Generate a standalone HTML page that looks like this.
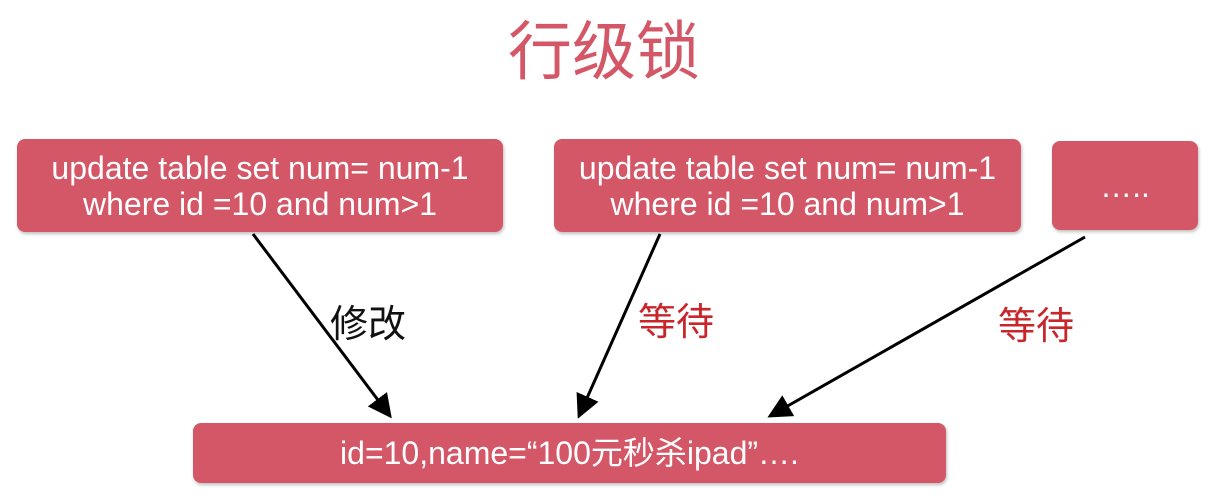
<!DOCTYPE html>
<html><head><meta charset="utf-8"><style>
body{margin:0;width:1208px;height:499px;background:#fff;position:relative;overflow:hidden;font-family:"Liberation Sans","Noto Sans CJK SC",sans-serif}
.b{position:absolute;background:#d35767;border-radius:8px;color:#fff;display:flex;align-items:center;justify-content:center;text-align:center;box-shadow:1px 2px 3px rgba(0,0,0,.25);font-size:32px;line-height:36px;white-space:nowrap}
.t{position:absolute;font-family:"Liberation Sans","Noto Sans CJK SC",sans-serif;font-size:38px;line-height:1}
</style></head><body>
<div class="t" style="left:0;width:1208px;text-align:center;top:20px;font-size:64px;color:#d35767">行级锁</div>
<div class="b" style="left:17px;top:139px;width:486px;height:93px">update table set num= num-1<br>where id =10 and num&gt;1</div>
<div class="b" style="left:554px;top:139px;width:467px;height:93px">update table set num= num-1<br>where id =10 and num&gt;1</div>
<div class="b" style="left:1052px;top:141px;width:146px;height:89px">…..</div>
<div class="b" style="left:193px;top:423px;width:753px;height:60px">id=10,name=“100元秒杀ipad”….</div>
<svg style="position:absolute;left:0;top:0" width="1208" height="499">
<defs><marker id="a" markerWidth="8" markerHeight="8" refX="7" refY="4" orient="auto" markerUnits="strokeWidth"><path d="M0,0 L8,4 L0,8z" fill="#000"/></marker></defs>
<g stroke="#000" stroke-width="3" fill="none" marker-end="url(#a)">
<line x1="253" y1="234" x2="390" y2="416"/>
<line x1="660" y1="234" x2="579" y2="416"/>
<line x1="1085" y1="237" x2="770" y2="416"/>
</g></svg>
<div class="t" style="left:330px;top:306px;color:#111">修改</div>
<div class="t" style="left:638px;top:304px;color:#c8262b">等待</div>
<div class="t" style="left:998px;top:308px;color:#c8262b">等待</div>
</body></html>
